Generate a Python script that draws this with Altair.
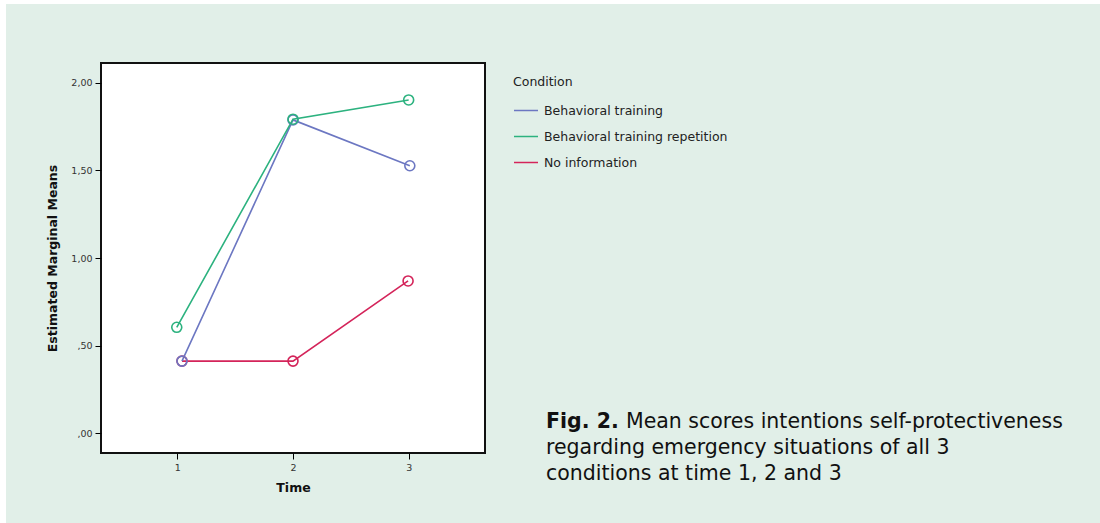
import altair as alt
import pandas as pd

conditions = ["Behavioral training", "Behavioral training repetition", "No information"]
colors = ["#6c77c2", "#2cb27f", "#d4245a"]

# time positions (slight horizontal offsets as seen in the picture)
time_bt = [1.04, 2.0, 3.01]
time_btr = [0.995, 2.0, 3.0]
time_ni = [1.04, 2.0, 2.995]

mean_bt = [0.411, 1.789, 1.527]
mean_btr = [0.604, 1.793, 1.903]
mean_ni = [0.411, 0.411, 0.869]

caption_bold = "Fig. 2."
caption_lines = [
    "Mean scores intentions self-protectiveness",
    "regarding emergency situations of all 3",
    "conditions at time 1, 2 and 3",
]

rows = []
# drawing order: red, blue, green (as overlaps in the picture show)
for cond, ts, ms in [
    (conditions[2], time_ni, mean_ni),
    (conditions[0], time_bt, mean_bt),
    (conditions[1], time_btr, mean_btr),
]:
    for t, m in zip(ts, ms):
        rows.append({"Condition": cond, "Time": t, "Mean": m})
df = pd.DataFrame(rows)

W, H = 384, 390
FONT = "DejaVu Sans"

x = alt.X(
    "Time:Q",
    scale=alt.Scale(domain=[0.34, 3.66], nice=False, zero=False),
    axis=alt.Axis(
        values=[1, 2, 3], format="d", title="Time", grid=False, domain=False,
        tickSize=6, tickColor="#000", labelFontSize=9.5, labelColor="#333",
        labelFont=FONT, titleFont=FONT, titleFontSize=12.5, titleFontWeight="bold",
        titleColor="#111", titlePadding=10, labelPadding=3, zindex=1,
    ),
)
y = alt.Y(
    "Mean:Q",
    scale=alt.Scale(domain=[-0.114, 2.114], nice=False, zero=False),
    axis=alt.Axis(
        values=[0, 0.5, 1, 1.5, 2], grid=False, domain=False,
        labelExpr="datum.value < 1 ? replace(format(datum.value, '.2f'), '0.', ',') : replace(format(datum.value, '.2f'), '.', ',')",
        title="Estimated Marginal Means",
        tickSize=6, tickColor="#000", labelFontSize=9.5, labelColor="#333",
        labelFont=FONT, titleFont=FONT, titleFontSize=12.5, titleFontWeight="bold",
        titleColor="#111", titlePadding=11, labelPadding=3, zindex=1,
    ),
)

color = alt.Color(
    "Condition:N",
    scale=alt.Scale(domain=conditions, range=colors),
    legend=alt.Legend(
        title="Condition", orient="none", legendX=412, legendY=13,
        symbolType="stroke", symbolSize=576, symbolStrokeWidth=1.5,
        labelFont=FONT, labelFontSize=12.5, labelColor="#222", labelLimit=400,
        titleFont=FONT, titleFontSize=12.5, titleFontWeight="normal", titleColor="#222",
        rowPadding=6, titlePadding=9, labelOffset=5,
    ),
)

base = alt.Chart(df)
lines = base.mark_line(strokeWidth=1.6).encode(x=x, y=y, color=color, detail="Condition:N")
points = base.mark_point(shape="circle", filled=False, size=100, strokeWidth=1.6, opacity=1).encode(
    x=x, y=y, color=alt.Color("Condition:N", scale=alt.Scale(domain=conditions, range=colors), legend=None)
)

strip = pd.DataFrame({"k": [0]})
white_left = alt.Chart(strip).mark_rect(color="white", clip=False).encode(
    x=alt.value(-101), x2=alt.value(-95), y=alt.value(-63), y2=alt.value(460)
)
white_top = alt.Chart(strip).mark_rect(color="white", clip=False).encode(
    x=alt.value(-101), x2=alt.value(999), y=alt.value(-63), y2=alt.value(-59)
)

CAP = 20.5
cap_bold = alt.Chart(pd.DataFrame({"t": [caption_bold]})).mark_text(
    align="left", baseline="alphabetic", font=FONT, fontSize=CAP, fontWeight="bold", color="#111"
).encode(x=alt.value(445), y=alt.value(365), text="t:N")
cap1 = alt.Chart(pd.DataFrame({"t": [caption_lines[0]]})).mark_text(
    align="left", baseline="alphabetic", font=FONT, fontSize=CAP, color="#111"
).encode(x=alt.value(525), y=alt.value(365), text="t:N")
cap2 = alt.Chart(pd.DataFrame({"t": [caption_lines[1]]})).mark_text(
    align="left", baseline="alphabetic", font=FONT, fontSize=CAP, color="#111"
).encode(x=alt.value(445), y=alt.value(391), text="t:N")
cap3 = alt.Chart(pd.DataFrame({"t": [caption_lines[2]]})).mark_text(
    align="left", baseline="alphabetic", font=FONT, fontSize=CAP, color="#111"
).encode(x=alt.value(445), y=alt.value(417), text="t:N")

chart = (
    alt.layer(white_left, white_top, lines, points, cap_bold, cap1, cap2, cap3)
    .properties(
        width=W, height=H,
        autosize=alt.AutoSizeParams(type="none"),
        padding={"left": 101, "top": 63, "right": 615, "bottom": 70},
        background="#e1efe8",
    )
    .configure_view(fill="white", stroke="#111", strokeWidth=2)
)

chart.save("out.html", embed_options={"renderer": "svg", "actions": False})
